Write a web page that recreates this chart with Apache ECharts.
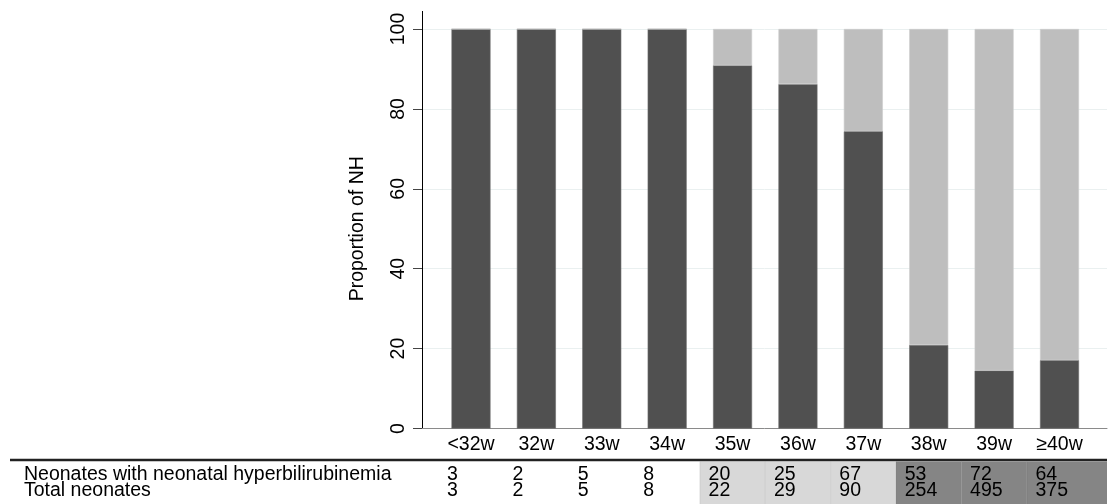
<!DOCTYPE html>
<html><head><meta charset="utf-8">
<script src="https://cdn.jsdelivr.net/npm/echarts@6/dist/echarts.min.js"></script>
<style>html,body{margin:0;padding:0;background:#fff}#c{width:1113px;height:504px}</style>
</head><body><div id="c"></div>
<script>
const categories = ['<32w','32w','33w','34w','35w','36w','37w','38w','39w','≥40w'];
const nhProportion = [100,100,100,100,90.9,86.2,74.4,20.9,14.5,17.1];
const nonNhProportion = [0,0,0,0,9.1,13.8,25.6,79.1,85.5,82.9];
const nhCounts = [3,2,5,8,20,25,67,53,72,64];
const totalCounts = [3,2,5,8,22,29,90,254,495,375];
const rowLabels = ['Neonates with neonatal hyperbilirubinemia','Total neonates'];
const yAxisTitle = 'Proportion of NH';
const lightGroup = ['35w','36w','37w'];
const darkGroup = ['38w','39w','≥40w'];

const FONT = '"Liberation Sans", Arial, Helvetica, sans-serif';
const FS = 19.5;
const chart = echarts.init(document.getElementById('c'), null, {renderer:'canvas'});

chart.setOption({
  animation:false,
  backgroundColor:'#fff',
  textStyle:{fontFamily:FONT},
  grid:[
    {left:422, right:6, top:29, bottom:75.5},
    {left:438.3, right:20.8, top:29, bottom:75.5}
  ],
  xAxis:[
    {gridIndex:0, type:'value', min:0, max:1, axisLine:{show:true, onZero:false, lineStyle:{color:'#8a8a8a', width:1}},
     axisTick:{show:false}, axisLabel:{show:false}, splitLine:{show:false}},
    {gridIndex:1, type:'category', data:categories, axisLine:{show:false}, axisTick:{show:false},
     axisLabel:{color:'#000', fontSize:FS, fontFamily:FONT, margin:6}}
  ],
  yAxis:[
    {gridIndex:0, type:'value', min:0, max:100, interval:20,
     name:yAxisTitle, nameLocation:'middle', nameGap:54, nameTextStyle:{color:'#000', fontSize:FS, fontFamily:FONT},
     axisLine:{show:true, lineStyle:{color:'#000', width:1}},
     axisTick:{show:true, length:9, lineStyle:{color:'#444'}},
     axisLabel:{rotate:90, margin:13, color:'#000', fontSize:FS, fontFamily:FONT},
     splitLine:{show:true, lineStyle:{color:'#eaf0f0', width:1}}},
    {gridIndex:1, type:'value', min:0, max:100, show:false}
  ],
  series:[
    {type:'bar', name:'NH', xAxisIndex:1, yAxisIndex:1, stack:'p', data:nhProportion, barWidth:39,
     itemStyle:{color:'#505050', borderColor:'#6a6a6a', borderWidth:0.6}},
    {type:'bar', name:'Non-NH', xAxisIndex:1, yAxisIndex:1, stack:'p', data:nonNhProportion, barWidth:39,
     itemStyle:{color:'#bebebe', borderColor:'#cccccc', borderWidth:0.6}}
  ]
});

// Table below the chart, positioned from the category axis scale
const centers = categories.map((c,i)=>chart.convertToPixel({xAxisIndex:1}, i));
const band = centers[1]-centers[0];
const rightEdge = chart.convertToPixel({xAxisIndex:0}, 1);
const axisX = chart.convertToPixel({xAxisIndex:0}, 0);
const topY = chart.convertToPixel({yAxisIndex:0}, 100);
const lineY = 460, cellTop = 461.5, cellBottom = 504;
const row1Y = 474.5, row2Y = 491;
const g = [];
// y axis line continues a little above the top tick
g.push({type:'line', shape:{x1:axisX+0.5, y1:11, x2:axisX+0.5, y2:topY}, style:{stroke:'#000', lineWidth:1}, z:4});
categories.forEach((c,i)=>{
  let fill = null;
  if (lightGroup.includes(c)) fill = '#d8d8d8';
  if (darkGroup.includes(c)) fill = '#858585';
  if (fill){
    const x0 = centers[i]-band/2;
    const x1 = (i===categories.length-1) ? rightEdge : centers[i]+band/2;
    g.push({type:'rect', shape:{x:x0, y:cellTop, width:x1-x0, height:cellBottom-cellTop}, style:{fill:fill, stroke:null}, z:1});
    g.push({type:'line', shape:{x1:x0, y1:cellTop, x2:x0, y2:cellBottom}, style:{stroke:'rgba(0,0,0,0.08)', lineWidth:1}, z:2});
  }
  g.push({type:'text', x:centers[i]-24, y:row1Y, style:{text:String(nhCounts[i]), fill:'#000', font:FS+'px '+FONT, textAlign:'left', textVerticalAlign:'middle'}, z:3});
  g.push({type:'text', x:centers[i]-24, y:row2Y, style:{text:String(totalCounts[i]), fill:'#000', font:FS+'px '+FONT, textAlign:'left', textVerticalAlign:'middle'}, z:3});
});
g.push({type:'line', shape:{x1:10, y1:lineY, x2:rightEdge, y2:lineY}, style:{stroke:'#222', lineWidth:2.5}, z:4});
g.push({type:'text', x:24, y:row1Y, style:{text:rowLabels[0], fill:'#000', font:FS+'px '+FONT, textAlign:'left', textVerticalAlign:'middle'}, z:3});
g.push({type:'text', x:24, y:row2Y, style:{text:rowLabels[1], fill:'#000', font:FS+'px '+FONT, textAlign:'left', textVerticalAlign:'middle'}, z:3});
chart.setOption({graphic:g});
</script>
</body></html>
